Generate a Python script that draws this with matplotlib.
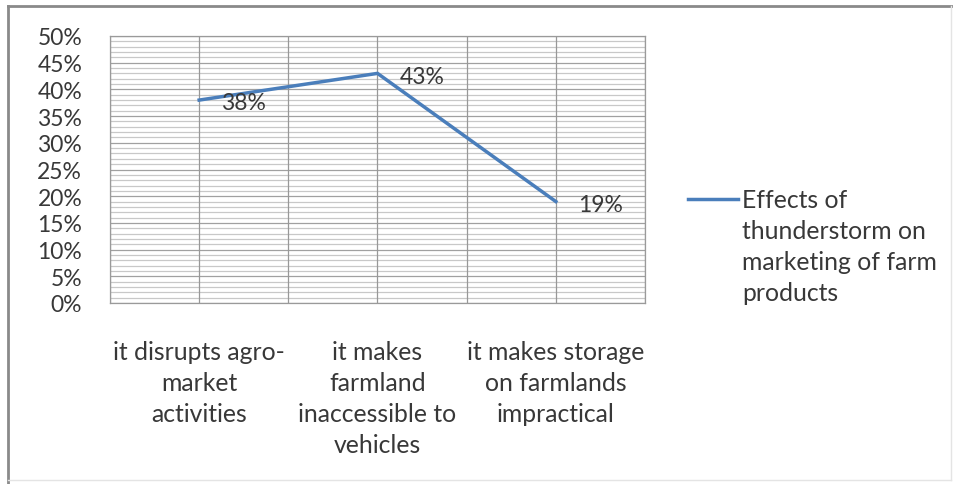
import matplotlib.pyplot as plt
import matplotlib.ticker as ticker
from matplotlib.lines import Line2D

plt.rcParams['font.family'] = ['Lato', 'DejaVu Sans']

categories = ["it disrupts agro-\nmarket\nactivities",
              "it makes\nfarmland\ninaccessible to\nvehicles",
              "it makes storage\non farmlands\nimpractical"]
values = [0.38, 0.43, 0.19]
value_labels = ["38%", "43%", "19%"]
series_name = "Effects of\nthunderstorm on\nmarketing of farm\nproducts"

W, H = 954, 485
FS = 16.5      # ticks and data labels
FS2 = 17.8     # category labels and legend
TXT = '#383838'
LINE = '#4a7ebb'
fig = plt.figure(figsize=(W/100, H/100), dpi=100)

# outer chart frame (excel style)
fig.add_artist(Line2D([8/W, 8/W], [0, 1-7/H], color='#8a8a8a', lw=2))
fig.add_artist(Line2D([8/W, 1], [1-7/H, 1-7/H], color='#8a8a8a', lw=2))
fig.add_artist(Line2D([951/W, 951/W], [4/H, 1-7/H], color='#e4e4e4', lw=1))
fig.add_artist(Line2D([8/W, 951/W], [4/H, 4/H], color='#e4e4e4', lw=1))

ax = fig.add_axes([110/W, 1-304/H, (645-110)/W, (304-37)/H])
x = list(range(len(categories)))
ax.set_xlim(-0.5, len(categories)-0.5)
ax.set_ylim(0, 0.5)

# horizontal grid: minor every 1%, major every 5%
for i in range(51):
    yv = i/100
    c = '#a0a0a0' if i % 5 == 0 else '#c8c8c8'
    ax.axhline(yv, color=c, lw=0.9, zorder=1)
# vertical grid at category centres and boundaries
for k in range(2*len(categories)+1):
    ax.axvline(-0.5+k*0.5, color='#989898', lw=0.9, zorder=1)

ax.plot(x, values, color=LINE, lw=2.5, solid_joinstyle='miter', zorder=3)
for xi, yi, t in zip(x, values, value_labels):
    ax.annotate(t, (xi, yi), xytext=(16, -2), textcoords='offset points',
                ha='left', va='center', fontsize=FS, color=TXT, zorder=4)

for s in ax.spines.values():
    s.set_color('#9a9a9a')
    s.set_linewidth(0.9)

ax.yaxis.set_major_locator(ticker.MultipleLocator(0.05))
ax.yaxis.set_major_formatter(ticker.FuncFormatter(lambda v, p: f"{round(v*100)}%"))
ax.set_xticks(x)
ax.set_xticklabels(categories, fontsize=FS2, color=TXT, linespacing=1.42,
                   va='top')
ax.tick_params(axis='both', length=0, colors=TXT)
ax.tick_params(axis='y', labelsize=FS, pad=20)
ax.tick_params(axis='x', pad=27)

# legend: handle aligned with the first line of the label (excel style)
ly = 1 - 200/H
fig.add_artist(Line2D([688/W, 738/W], [ly, ly], color=LINE, lw=2.5))
fig.text(742/W, ly + 11/H, series_name, ha='left', va='top', fontsize=FS2,
         color=TXT, linespacing=1.42)

fig.savefig('out.png', dpi=100)
